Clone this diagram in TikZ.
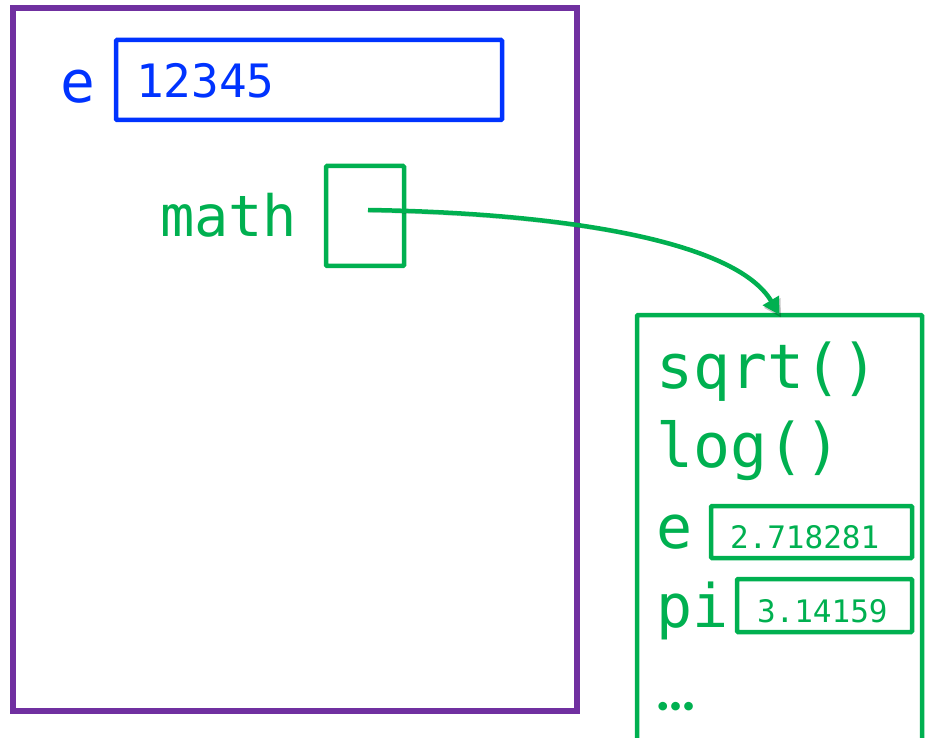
\documentclass[tikz,border=0pt]{standalone}
\usepackage{fontspec}
\newfontfamily\codefont{DejaVu Sans Mono}
\newfontfamily\dotsfont{Carlito}
\usetikzlibrary{arrows.meta}
\definecolor{framepurple}{RGB}{112,48,160}
\definecolor{varblue}{RGB}{0,51,255}
\definecolor{modgreen}{RGB}{0,176,80}
\newcommand{\fsz}[1]{\fontsize{#1}{#1}\selectfont}
\tikzset{
  frame/.style={draw=framepurple, line width=5.5pt, inner sep=0, outer sep=0},
  valbox/.style={draw, line width=4.5pt, rounded corners=1pt, inner sep=0, outer sep=0},
  lbl/.style={inner sep=0, outer sep=0, anchor=base west, font=\codefont},
  conn/.style={draw=modgreen, line width=4.5pt, -{Triangle[length=17pt,width=18pt]},
    preaction={draw=black, opacity=0.22, transform canvas={shift={(1.5pt,-2.5pt)}}}}
}
\begin{document}
\begin{tikzpicture}[x=1pt,y=-1pt]
\useasboundingbox (0,0) rectangle (932,738);
\clip (0,0) rectangle (932,738);

% global frame
\node[frame, minimum width=564pt, minimum height=703pt] (frame) at (295,359.5) {};

% variable e
\node[valbox, draw=varblue, minimum width=386pt, minimum height=80pt] (ebox) at (309,80) {};
\node[lbl, text=varblue] (elbl) at (60,103) {\fsz{58}e};
\node[lbl, text=varblue] (eval) at (136,98) {\fsz{46}12345};

% variable math
\node[valbox, draw=modgreen, minimum width=78pt, minimum height=100pt] (mathbox) at (365,216) {};
\node[lbl, text=modgreen] (mathlbl) at (160,237) {\fsz{57}math};

% module object
\node[valbox, draw=modgreen, minimum width=285pt, minimum height=485pt] (modbox) at (779.5,557.5) {};
\node[lbl, text=modgreen] (sqrt) at (656,388) {\fsz{61.5}sqrt()};
\node[lbl, text=modgreen] (log) at (656,467) {\fsz{61.5}log()};
\node[lbl, text=modgreen] (me) at (656,548) {\fsz{60}e};
\node[valbox, draw=modgreen, minimum width=201pt, minimum height=52pt] (meb) at (811.5,532) {};
\node[lbl, text=modgreen] (mev) at (730,548) {\fsz{31}2.718281};
\node[lbl, text=modgreen] (mpi) at (656,627) {\fsz{60}pi};
\node[valbox, draw=modgreen, minimum width=175pt, minimum height=53pt] (mpib) at (824.5,605.5) {};
\node[lbl, text=modgreen] (mpiv) at (757,622) {\fsz{31}3.14159};
\node[lbl, text=modgreen, font=\dotsfont\bfseries] (more) at (655,710) {\fsz{58}…};

% reference from math to the module
\path[conn] ([shift={(3,-6)}]mathbox.center) .. controls (560,213) and (735,240) .. (modbox.north);
\end{tikzpicture}
\end{document}
